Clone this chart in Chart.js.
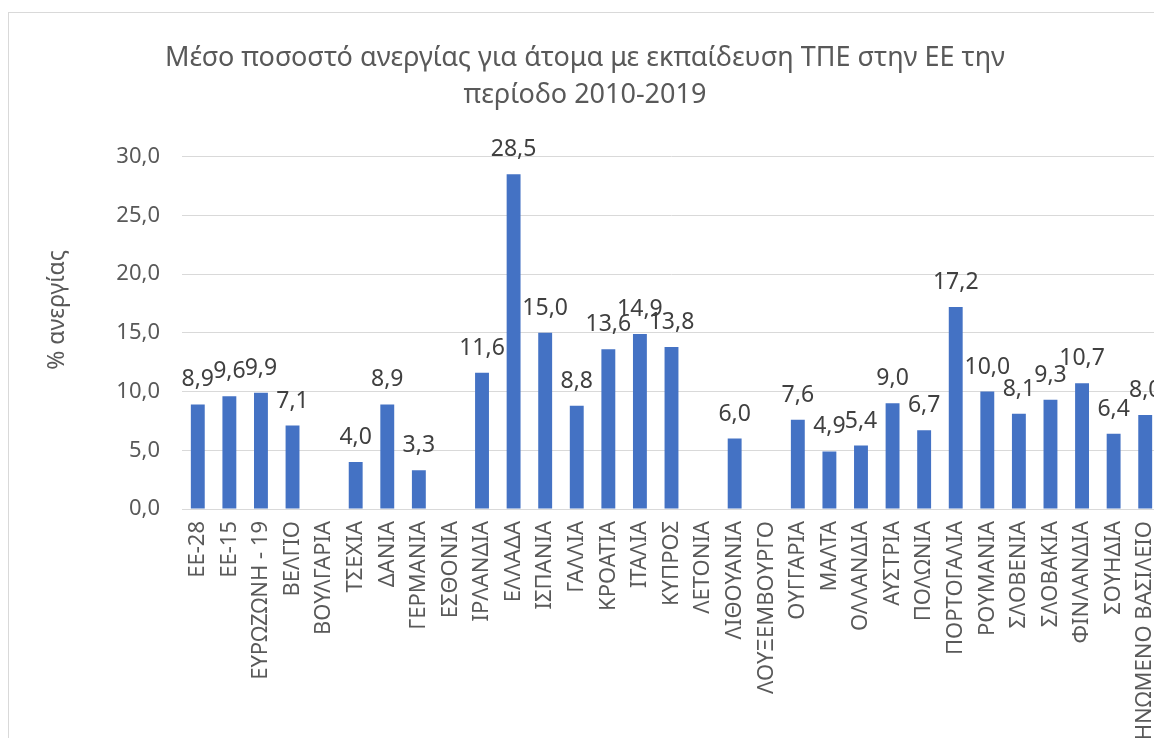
<!DOCTYPE html>
<html lang="el">
<head>
<meta charset="utf-8">
<title>Ανεργία ΤΠΕ 2010-2019</title>
<script src="https://cdn.jsdelivr.net/npm/chart.js@4/dist/chart.umd.min.js"></script>
<style>
  html, body { margin: 0; padding: 0; background: #fff; overflow: hidden; width: 1154px; height: 738px; }
  #plaisio { position: absolute; left: 8px; top: 12px; width: 1160px; height: 800px;
             border-left: 1px solid #d9d9d9; border-top: 1px solid #d9d9d9; }
  canvas { display: block; }
</style>
</head>
<body>
<div id="plaisio"><canvas id="grafima" width="1160" height="800"></canvas></div>
<script>
// Χώρες / ομάδες χωρών
const xores = [
  "ΕΕ-28", "ΕΕ-15", "ΕΥΡΩΖΩΝΗ - 19", "ΒΕΛΓΙΟ", "ΒΟΥΛΓΑΡΙΑ", "ΤΣΕΧΙΑ", "ΔΑΝΙΑ",
  "ΓΕΡΜΑΝΙΑ", "ΕΣΘΟΝΙΑ", "ΙΡΛΑΝΔΙΑ", "ΕΛΛΑΔΑ", "ΙΣΠΑΝΙΑ", "ΓΑΛΛΙΑ", "ΚΡΟΑΤΙΑ",
  "ΙΤΑΛΙΑ", "ΚΥΠΡΟΣ", "ΛΕΤΟΝΙΑ", "ΛΙΘΟΥΑΝΙΑ", "ΛΟΥΞΕΜΒΟΥΡΓΟ", "ΟΥΓΓΑΡΙΑ", "ΜΑΛΤΑ",
  "ΟΛΛΑΝΔΙΑ", "ΑΥΣΤΡΙΑ", "ΠΟΛΩΝΙΑ", "ΠΟΡΤΟΓΑΛΙΑ", "ΡΟΥΜΑΝΙΑ", "ΣΛΟΒΕΝΙΑ",
  "ΣΛΟΒΑΚΙΑ", "ΦΙΝΛΑΝΔΙΑ", "ΣΟΥΗΔΙΑ", "ΗΝΩΜΕΝΟ ΒΑΣΙΛΕΙΟ"
];

// Μέσο ποσοστό ανεργίας (%), null όπου δεν υπάρχουν στοιχεία
const posostaAnergias = [
  8.9, 9.6, 9.9, 7.1, null, 4.0, 8.9,
  3.3, null, 11.6, 28.5, 15.0, 8.8, 13.6,
  14.9, 13.8, null, 6.0, null, 7.6, 4.9,
  5.4, 9.0, 6.7, 17.2, 10.0, 8.1,
  9.3, 10.7, 6.4, 8.0
];

// Άξονας y
const yTicks = [0, 5, 10, 15, 20, 25, 30];

const titlos = ["Μέσο ποσοστό ανεργίας για άτομα με εκπαίδευση ΤΠΕ στην ΕΕ την", "περίοδο 2010-2019"];
const titlosY = "% ανεργίας";

const GRAMMATOSEIRA = '"Noto Sans", "Open Sans", sans-serif';
const GKRI = "#595959";

function morfi(v) {
  return v.toFixed(1).replace(".", ",");
}

// ετικέτες τιμών πάνω από κάθε στήλη + τίτλος άξονα y
const etiketes = {
  id: "etiketes",
  afterDatasetsDraw(chart) {
    const ctx = chart.ctx;
    const meta = chart.getDatasetMeta(0);
    ctx.save();
    ctx.font = "23px " + GRAMMATOSEIRA;
    ctx.fillStyle = "#404040";
    ctx.textAlign = "center";
    ctx.textBaseline = "alphabetic";
    meta.data.forEach((bar, i) => {
      const v = chart.data.datasets[0].data[i];
      if (v === null) return;
      ctx.fillText(morfi(v), bar.x, bar.y - 18);
    });

    ctx.translate(48, 297);
    ctx.rotate(-Math.PI / 2);
    ctx.font = "23px " + GRAMMATOSEIRA;
    ctx.fillStyle = GKRI;
    ctx.textBaseline = "middle";
    ctx.fillText(titlosY, 0, 0);
    ctx.restore();
  }
};

new Chart(document.getElementById("grafima"), {
  type: "bar",
  data: {
    labels: xores,
    datasets: [{
      data: posostaAnergias,
      backgroundColor: "#4472c4",
      categoryPercentage: 1,
      barPercentage: 0.44
    }]
  },
  options: {
    responsive: false,
    animation: false,
    layout: { padding: { left: 0, right: 8, top: 0, bottom: 0 } },
    plugins: {
      legend: { display: false },
      tooltip: { enabled: false },
      title: {
        display: true,
        text: titlos,
        color: GKRI,
        font: { family: GRAMMATOSEIRA, size: 27, weight: "normal", lineHeight: 1.4 },
        padding: { top: 26, bottom: 42 }
      }
    },
    scales: {
      x: {
        grid: { display: false, drawTicks: false },
        border: { color: "#d9d9d9" },
        ticks: {
          color: GKRI,
          font: { family: GRAMMATOSEIRA, size: 22 },
          minRotation: 90,
          maxRotation: 90,
          autoSkip: false,
          padding: 12
        },
        afterFit(scale) {
          scale.height = 304;
          // οι κατακόρυφες ετικέτες δεν χρειάζονται επιπλέον πλευρικό περιθώριο
          scale.paddingLeft = 0;
          scale.paddingRight = 0;
        }
      },
      y: {
        min: 0,
        max: 30,
        afterBuildTicks(scale) { scale.ticks = yTicks.map(v => ({ value: v })); },
        grid: { color: "#d9d9d9", drawTicks: false },
        border: { display: false },
        ticks: {
          color: GKRI,
          font: { family: GRAMMATOSEIRA, size: 22 },
          padding: 22,
          callback: v => morfi(v)
        },
        afterFit(scale) { scale.width = 173; }
      }
    }
  },
  plugins: [etiketes]
});
</script>
</body>
</html>
